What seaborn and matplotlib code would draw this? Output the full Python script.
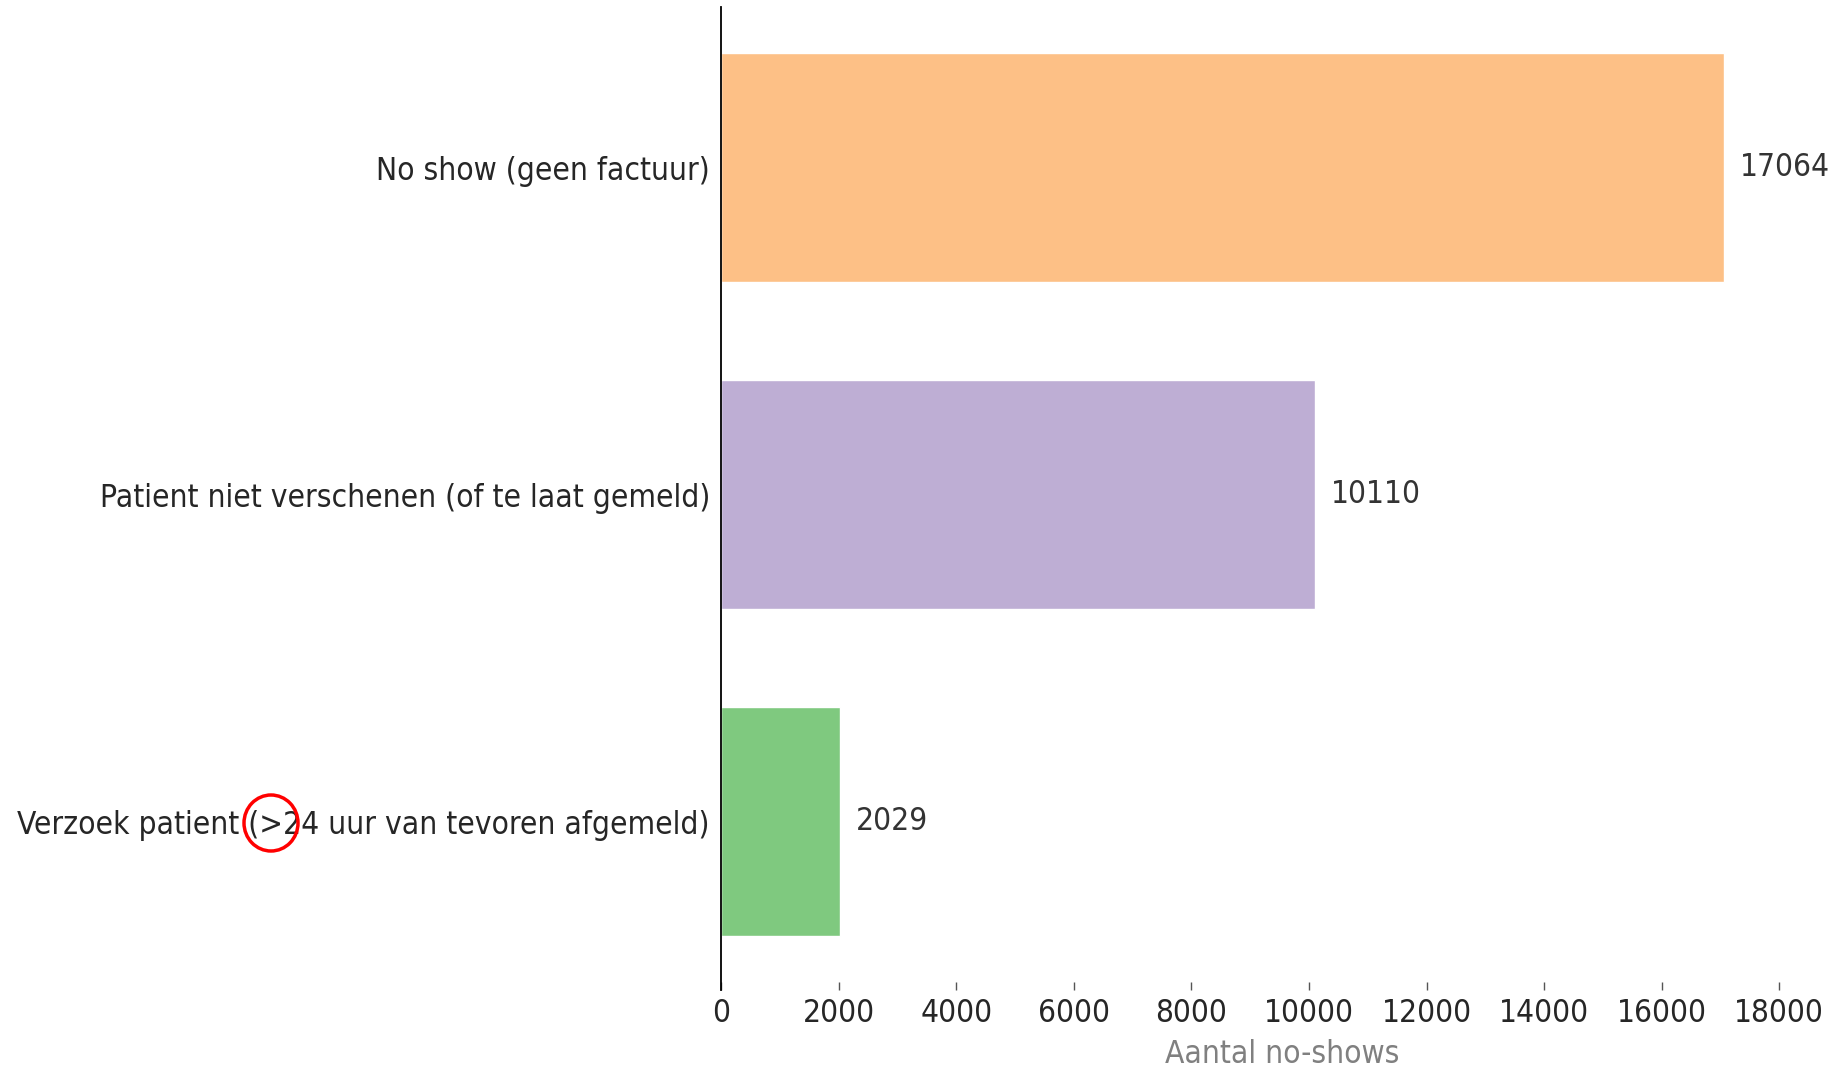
import pandas as pd
import matplotlib.pyplot as plt
from matplotlib.patches import Ellipse
import seaborn as sns

# -----------------------------
# Data
# -----------------------------
categories = [
    "No show (geen factuur)",
    "Patient niet verschenen (of te laat gemeld)",
    "Verzoek patient (>24 uur van tevoren afgemeld)",
]
counts = [17064, 10110, 2029]
bar_colors = ["#fdc086", "#beaed4", "#7fc97f"]
x_ticks = [0, 2000, 4000, 6000, 8000, 10000, 12000, 14000, 16000, 18000]

df = pd.DataFrame({"reden": categories, "aantal": counts})

# -----------------------------
# Style
# -----------------------------
sns.set_style("white")
plt.rcParams["font.family"] = ["DejaVu Sans"]
plt.rcParams["font.stretch"] = "condensed"
fs = 22.7

fig = plt.figure(figsize=(18.36, 10.67), dpi=100)
ax = fig.add_axes([721 / 1836, 1 - 990 / 1067, 1123 / 1836, 983 / 1067])

sns.barplot(data=df, y="reden", x="aantal", hue="reden", palette=bar_colors,
            orient="h", width=0.7, legend=False, ax=ax, saturation=1)

ax.set_xlim(0, 19100)
ax.set_ylim(2.514, -0.492)
ax.set_xticks(x_ticks)
ax.set_ylabel("")
ax.set_xlabel("Aantal no-shows", fontsize=fs, color="#808080", labelpad=7.4)

for side in ["top", "right", "bottom"]:
    ax.spines[side].set_visible(False)
ax.spines["left"].set_color("black")
ax.spines["left"].set_linewidth(1.3)

ax.tick_params(axis="x", direction="in", length=6, width=1, color="#555555",
               labelsize=fs, pad=5.5, bottom=True)
ax.tick_params(axis="y", length=0, labelsize=fs, pad=8)

# value labels next to bars
for i, v in enumerate(counts):
    ax.text(v + 260, i, f"{v}", va="center", ha="left", fontsize=fs, color="#333333")

# red marker circle around "(>2"
fig.patches.append(Ellipse((271 / 1836, 1 - 823 / 1067), 54 / 1836, 56 / 1067,
                           transform=fig.transFigure, fill=False,
                           edgecolor="red", linewidth=2.5))

fig.savefig("out.png", dpi=100)
